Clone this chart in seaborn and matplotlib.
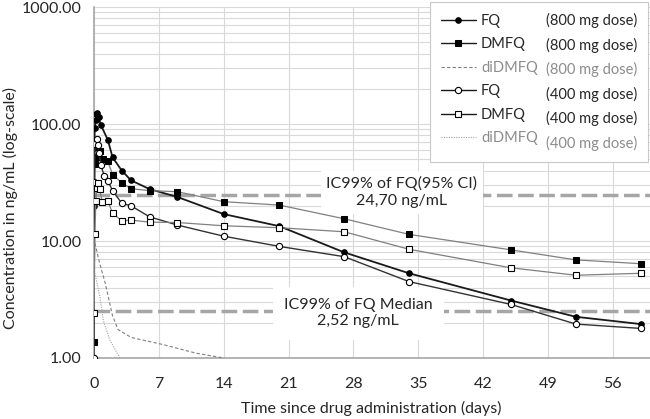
import matplotlib
matplotlib.use("Agg")
import matplotlib.pyplot as plt
import seaborn as sns
from matplotlib.lines import Line2D
from matplotlib.ticker import FormatStrFormatter, LogLocator, MultipleLocator, NullFormatter

fq800_t = [0.02, 0.04, 0.08, 0.17, 0.25, 0.33, 0.5, 0.75, 1.5, 2, 3, 4, 6, 9, 14, 20, 27, 34, 45, 52, 59]
fq800_v = [19.8, 62, 92, 108, 123, 125, 114, 98, 73, 52, 40, 33, 27.8, 23.8, 17.0, 13.4, 8.0, 5.3, 3.1, 2.25, 1.95]

dmfq800_t = [0, 0.1, 0.3, 0.6, 1, 1.5, 2, 3, 4, 6, 9, 14, 20, 27, 34, 45, 52, 59]
dmfq800_v = [1.37, 46, 52, 59, 50, 48, 37, 31.5, 28, 27, 26.4, 21.7, 20.3, 15.5, 11.4, 8.4, 6.9, 6.4]

didmfq800_t = [0.1, 0.6, 1.2, 2.0, 2.6, 4, 7.5, 11, 14]
didmfq800_v = [9.6, 6.5, 4.4, 2.3, 1.75, 1.5, 1.3, 1.1, 1.0]

fq400_t = [0, 0.05, 0.1, 0.3, 0.4, 0.55, 0.75, 1.1, 1.5, 2, 3, 4, 6, 9, 14, 20, 27, 34, 45, 52, 59]
fq400_v = [1.0, 32, 67, 74, 66, 57, 44.6, 36, 32.6, 27, 21, 20, 16.1, 13.7, 11.0, 9.0, 7.35, 4.5, 2.87, 1.95, 1.79]

dmfq400_t = [0, 0.1, 0.2, 0.3, 0.4, 0.6, 0.9, 1.5, 2, 3, 4, 6, 9, 14, 20, 27, 34, 45, 52, 59]
dmfq400_v = [2.42, 11.4, 22, 28.5, 31.5, 27.8, 21.5, 22, 17.3, 14.9, 15.1, 14.5, 14.4, 13.5, 13.0, 12.0, 8.5, 5.9, 5.1, 5.3]

didmfq400_t = [0.1, 0.65, 1.0, 1.7, 2.8]
didmfq400_v = [5.3, 3.3, 2.1, 1.43, 1.0]

ic99_ci = 24.70
ic99_median = 2.52

names = ["FQ", "DMFQ", "diDMFQ", "FQ", "DMFQ", "diDMFQ"]
doses = ["(800 mg dose)", "(800 mg dose)", "(800 mg dose)",
         "(400 mg dose)", "(400 mg dose)", "(400 mg dose)"]

sns.set_style("white")
plt.rcParams["font.family"] = ["Lato", "DejaVu Sans"]
plt.rcParams["font.size"] = 11

fig = plt.figure(figsize=(6.5, 4.19), dpi=100)
ax = fig.add_axes([0.1446, 0.1456, 0.8554, 0.8374])

ref_kw = dict(color="#a6a6a6", linewidth=2.5, dashes=(4.5, 1.6), zorder=1)
ax.axhline(ic99_ci, **ref_kw)
ax.axhline(ic99_median, **ref_kw)

handles = []
series = [
    (fq800_t, fq800_v, dict(color="#1a1a1a", linewidth=1.3, marker="o", markersize=4,
                            markerfacecolor="black", markeredgecolor="black")),
    (dmfq800_t, dmfq800_v, dict(color="#808080", linewidth=0.9, marker="s", markersize=4.5,
                                markerfacecolor="black", markeredgecolor="black")),
    (didmfq800_t, didmfq800_v, dict(color="#7f7f7f", linewidth=0.8, dashes=(3, 2))),
    (fq400_t, fq400_v, dict(color="#333333", linewidth=1.0, marker="o", markersize=4.5,
                            markerfacecolor="white", markeredgecolor="black", markeredgewidth=0.8)),
    (dmfq400_t, dmfq400_v, dict(color="#808080", linewidth=0.9, marker="s", markersize=5,
                                markerfacecolor="white", markeredgecolor="black", markeredgewidth=0.8)),
    (didmfq400_t, didmfq400_v, dict(color="#a0a0a0", linewidth=0.8, dashes=(1, 1.2))),
]
for (t, v, kw) in series:
    sns.lineplot(x=t, y=v, ax=ax, zorder=3, legend=False, **kw)
    handles.append(ax.lines[-1])

ax.set_yscale("log")
ax.set_ylim(1, 1000)
ax.set_xlim(0, 60)

ax.xaxis.set_major_locator(MultipleLocator(7))
ax.xaxis.set_minor_locator(MultipleLocator(1))
ax.yaxis.set_major_locator(LogLocator(base=10))
ax.yaxis.set_minor_locator(LogLocator(base=10, subs=range(2, 10)))
ax.yaxis.set_major_formatter(FormatStrFormatter("%.2f"))
ax.yaxis.set_minor_formatter(NullFormatter())

ax.grid(axis="x", which="major", color="#d9d9d9", linewidth=0.8)
ax.grid(axis="y", which="both", color="#d9d9d9", linewidth=0.8)
ax.set_axisbelow(True)

for side in ["top", "right"]:
    ax.spines[side].set_visible(False)
for side in ["left", "bottom"]:
    ax.spines[side].set_color("#a6a6a6")
    ax.spines[side].set_linewidth(1.2)

ax.tick_params(axis="x", which="both", direction="in", length=3, color="#a6a6a6",
               pad=14, labelsize=11.5, labelcolor="#262626")
ax.tick_params(axis="y", which="major", direction="out", length=4, color="#a6a6a6",
               pad=5, labelsize=11.5, labelcolor="#262626")
ax.tick_params(axis="y", which="minor", direction="out", length=3, color="#a6a6a6")

fig.text(10 / 650, 0.504, "Concentration in ng/mL (log-scale)", rotation=90,
         ha="center", va="center", fontsize=11.5, color="#262626")
fig.text(371 / 650, 1 - 408 / 419, "Time since drug administration (days)",
         ha="center", va="center", fontsize=11.5, color="#262626")

box_kw = dict(facecolor="white", edgecolor="none", pad=4)
ax.text(33.2, 26.2, "IC99% of FQ(95% CI)\n24,70 ng/mL", ha="center", va="center",
        fontsize=11.5, color="#262626", linespacing=1.25, bbox=box_kw, zorder=2)
ax.text(28.5, 2.42, "IC99% of FQ Median\n2,52 ng/mL", ha="center", va="center",
        fontsize=11.5, color="#262626", linespacing=1.25, bbox=dict(box_kw, pad=8), zorder=2)

blanks = [Line2D([], [], linestyle="none") for _ in doses]
leg = ax.legend(handles + blanks, names + doses, ncol=2, loc="upper right",
                bbox_to_anchor=(648 / 650, 1 - 2 / 419), bbox_transform=fig.transFigure,
                borderaxespad=0, frameon=True, fancybox=False, framealpha=1,
                edgecolor="#c8c8c8", fontsize=10.5, handlelength=2.4, handletextpad=0.35,
                columnspacing=-2.2, labelspacing=0.65, borderpad=0.75)
leg.get_frame().set_linewidth(0.8)
for i, txt in enumerate(leg.get_texts()):
    txt.set_color("#8c8c8c" if i % 3 == 2 else "#262626")
# 凡例の実線は黒で表示
for i in [0, 1, 3, 4]:
    leg.legend_handles[i].set_color("#1a1a1a")
    leg.legend_handles[i].set_linewidth(1.0)

fig.savefig("out.png", dpi=100)
